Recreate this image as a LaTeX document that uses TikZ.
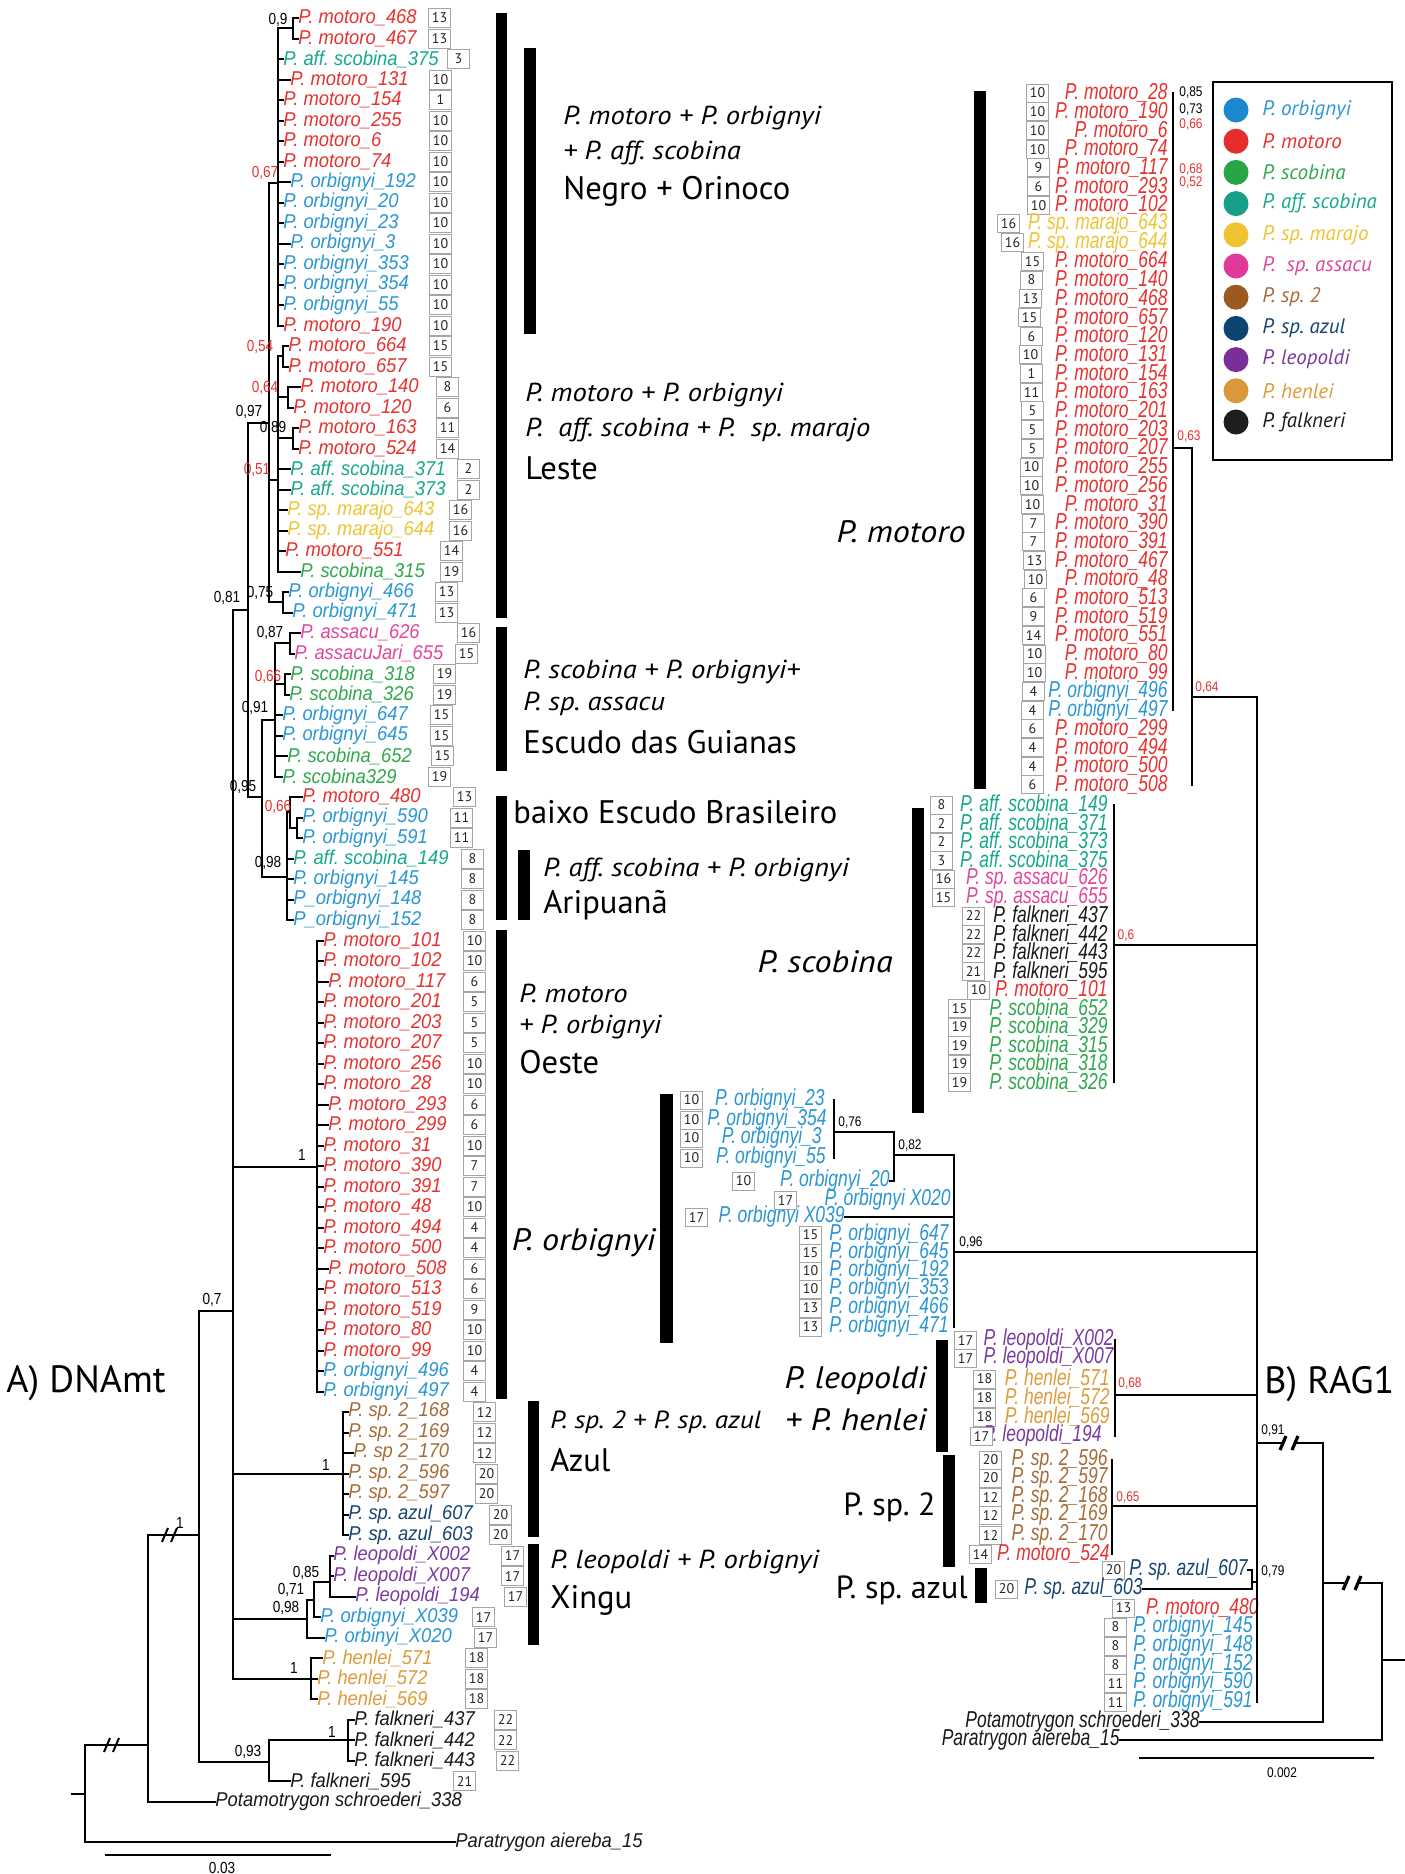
\documentclass[tikz,border=0pt]{standalone}
\usepackage{fontspec}
\setmainfont{PT Sans}
\newfontfamily\descf{PT Sans}[FakeStretch=1.1]
\newfontfamily\tipAf{Liberation Sans}[FakeStretch=0.92]
\newfontfamily\tipBf{Liberation Sans}[FakeStretch=0.76]
\newfontfamily\supf{Liberation Sans}[FakeStretch=0.85]
\definecolor{mot}{RGB}{230,50,48}
\definecolor{orb}{RGB}{42,150,212}
\definecolor{sco}{RGB}{48,168,78}
\definecolor{aff}{RGB}{22,168,140}
\definecolor{mar}{RGB}{238,196,50}
\definecolor{ass}{RGB}{225,70,155}
\definecolor{sp2}{RGB}{165,108,55}
\definecolor{azu}{RGB}{22,68,112}
\definecolor{leo}{RGB}{122,58,160}
\definecolor{hen}{RGB}{222,155,58}
\definecolor{fal}{RGB}{25,25,25}
\definecolor{supred}{RGB}{230,50,48}
\definecolor{boxgray}{RGB}{165,165,165}
\definecolor{corb}{RGB}{30,136,206}
\definecolor{cmot}{RGB}{229,45,45}
\definecolor{csco}{RGB}{39,166,72}
\definecolor{caff}{RGB}{22,160,138}
\definecolor{cmar}{RGB}{240,195,50}
\definecolor{cass}{RGB}{224,57,155}
\definecolor{csp2}{RGB}{154,90,34}
\definecolor{cazu}{RGB}{14,68,112}
\definecolor{cleo}{RGB}{122,47,150}
\definecolor{chen}{RGB}{217,152,58}
\definecolor{cfal}{RGB}{30,30,30}
\newcommand\brkA[1]{\begin{scope}[shift={(#1)}]
 \draw[line width=1pt] (-8,7) -- (-2,-7); \draw[line width=1pt] (1,7) -- (7,-7);\end{scope}}
\newcommand\brkB[1]{\begin{scope}[shift={(#1)}]
 \fill[white] (-9,6) -- (1,6) -- (9,-6) -- (-1,-6) -- cycle;
 \draw[line width=1.6pt] (-9,7) -- (-3,-7); \draw[line width=1.6pt] (3,7) -- (9,-7);\end{scope}}
\begin{document}
\frenchspacing
\begin{tikzpicture}[x=0.5pt,y=-0.5pt,
 treeA/.style={line width=1pt,line cap=rect},
 treeB/.style={line width=0.8pt,line cap=rect},
 tipA/.style={anchor=west,inner sep=0pt,font=\tipAf\itshape\fontsize{10}{10}\selectfont},
 tipB/.style={anchor=east,inner sep=0pt,font=\tipBf\itshape\fontsize{11.5}{11.5}\selectfont},
 nbox/.style={draw=boxgray,line width=0.5pt,fill=white,anchor=west,minimum width=11pt,minimum height=9.5pt,inner sep=0pt,font=\fontsize{7}{7}\selectfont,text=black!85},
 nboxB/.style={nbox,minimum height=9pt},
 supA/.style={inner sep=0pt,font=\supf\fontsize{8}{8}\selectfont},
 supB/.style={inner sep=0pt,font=\supf\fontsize{7}{7}\selectfont},
 descit/.style={anchor=west,inner sep=0pt,font=\descf\itshape\fontsize{13}{13}\selectfont},
 region/.style={anchor=west,inner sep=0pt,font=\fontsize{16.3}{16.3}\selectfont},
 grpit/.style={anchor=east,inner sep=0pt,font=\descf\itshape\fontsize{15.5}{15.5}\selectfont},
 grpup/.style={anchor=east,inner sep=0pt,font=\fontsize{16}{16}\selectfont},
 panel/.style={anchor=west,inner sep=0pt,font=\fontsize{19}{19}\selectfont},
 legtxt/.style={anchor=west,inner sep=0pt,font=\itshape\fontsize{10.5}{10.5}\selectfont}]
\fill[white] (0,0) rectangle (1404,1874);
\useasboundingbox (0,0) rectangle (1404,1874);

%% ================= A) DNAmt =================
\foreach \r/\xl/\col/\t/\bx/\n in {
1/298/mot/{P. motoro\_468}/428/13,
2/298/mot/{P. motoro\_467}/428/13,
3/283/aff/{P. aff. scobina\_375}/447/3,
4/290/mot/{P. motoro\_131}/429/10,
5/283/mot/{P. motoro\_154}/429/1,
6/283/mot/{P. motoro\_255}/429/10,
7/283/mot/{P. motoro\_6}/429/10,
8/283/mot/{P. motoro\_74}/429/10,
9/290/orb/{P. orbignyi\_192}/429/10,
10/283/orb/{P. orbignyi\_20}/429/10,
11/283/orb/{P. orbignyi\_23}/429/10,
12/290/orb/{P. orbignyi\_3}/429/10,
13/283/orb/{P. orbignyi\_353}/429/10,
14/283/orb/{P. orbignyi\_354}/429/10,
15/283/orb/{P. orbignyi\_55}/429/10,
16/283/mot/{P. motoro\_190}/429/10,
17/288/mot/{P. motoro\_664}/429/15,
18/288/mot/{P. motoro\_657}/429/15,
19/300/mot/{P. motoro\_140}/436/8,
20/293/mot/{P. motoro\_120}/436/6,
21/298/mot/{P. motoro\_163}/436/11,
22/298/mot/{P. motoro\_524}/436/14,
23/290/aff/{P. aff. scobina\_371}/457/2,
24/290/aff/{P. aff. scobina\_373}/457/2,
25/287/mar/{P. sp. marajo\_643}/449/16,
26/287/mar/{P. sp. marajo\_644}/449/16,
27/285/mot/{P. motoro\_551}/440/14,
28/300/sco/{P. scobina\_315}/440/19,
29/288/orb/{P. orbignyi\_466}/435/13,
30/292/orb/{P. orbignyi\_471}/435/13,
31/300/ass/{P. assacu\_626}/457/16,
32/294/ass/{P. assacuJari\_655}/455/15,
33/290/sco/{P. scobina\_318}/433/19,
34/289/sco/{P. scobina\_326}/433/19,
35/282/orb/{P. orbignyi\_647}/430/15,
36/282/orb/{P. orbignyi\_645}/430/15,
37/287/sco/{P. scobina\_652}/431/15,
38/282/sco/{P. scobina329}/428/19,
39/302/mot/{P. motoro\_480}/453/13,
40/302/orb/{P. orbignyi\_590}/450/11,
41/302/orb/{P. orbignyi\_591}/450/11,
42/293/aff/{P. aff. scobina\_149}/461/8,
43/293/orb/{P. orbignyi\_145}/461/8,
44/293/orb/{P\_orbignyi\_148}/461/8,
45/293/orb/{P\_orbignyi\_152}/461/8,
46/323/mot/{P. motoro\_101}/463/10,
47/323/mot/{P. motoro\_102}/463/10,
48/328/mot/{P. motoro\_117}/463/6,
49/323/mot/{P. motoro\_201}/463/5,
50/323/mot/{P. motoro\_203}/463/5,
51/323/mot/{P. motoro\_207}/463/5,
52/323/mot/{P. motoro\_256}/463/10,
53/323/mot/{P. motoro\_28}/463/10,
54/328/mot/{P. motoro\_293}/463/6,
55/328/mot/{P. motoro\_299}/463/6,
56/323/mot/{P. motoro\_31}/463/10,
57/323/mot/{P. motoro\_390}/463/7,
58/323/mot/{P. motoro\_391}/463/7,
59/323/mot/{P. motoro\_48}/463/10,
60/323/mot/{P. motoro\_494}/463/4,
61/323/mot/{P. motoro\_500}/463/4,
62/328/mot/{P. motoro\_508}/463/6,
63/323/mot/{P. motoro\_513}/463/6,
64/323/mot/{P. motoro\_519}/463/9,
65/323/mot/{P. motoro\_80}/463/10,
66/323/mot/{P. motoro\_99}/463/10,
67/323/orb/{P. orbignyi\_496}/463/4,
68/323/orb/{P. orbignyi\_497}/463/4,
69/348/sp2/{P. sp. 2\_168}/473/12,
70/348/sp2/{P. sp. 2\_169}/473/12,
71/353/sp2/{P. sp 2\_170}/473/12,
72/348/sp2/{P. sp. 2\_596}/475/20,
73/348/sp2/{P. sp. 2\_597}/475/20,
74/348/azu/{P. sp. azul\_607}/489/20,
75/348/azu/{P. sp. azul\_603}/489/20,
76/333/leo/{P. leopoldi\_X002}/501/17,
77/333/leo/{P. leopoldi\_X007}/501/17,
78/355/leo/{P. leopoldi\_194}/504/17,
79/320/orb/{P. orbignyi\_X039}/472/17,
80/324/orb/{P. orbinyi\_X020}/474/17,
81/322/hen/{P. henlei\_571}/465/18,
82/317/hen/{P. henlei\_572}/465/18,
83/317/hen/{P. henlei\_569}/465/18,
84/354/fal/{P. falkneri\_437}/494/22,
85/354/fal/{P. falkneri\_442}/494/22,
86/354/fal/{P. falkneri\_443}/496/22,
87/290/fal/{P. falkneri\_595}/453/21}{
 \node[tipA,text=\col] (L\r) at (\xl,{18+(\r-1)*20.5}) {\t};
 \node[nbox] (LB\r) at (\bx,{18+(\r-1)*20.5}) {\n};
}
\node[tipA,text=fal] (L88) at (215,1801.5) {Potamotrygon schroederi\_338};
\node[tipA,text=fal] (L89) at (455,1842) {Paratrygon aiereba\_15};

\foreach \nm/\x/\s in {a1/293/28, a2/278/183, a3/283/356, a5/288/397, a7/293/438,
 a6/278/480, a8/283/602, a4/269/423, b1/290/643, b2/285/684, b3/275/720,
 b4/297/828, b5/290/812, b7/287/877, b6/262/797, a9/248/610, c1/317/1167,
 c2/343/1474, c3/330/1582, c4/314/1600, c5/307/1619, c6/311/1678.5, c0/233/1311,
 d2/348/1740, d3/269/1762, d1/199/1535, d4/148/1745, d5/85/1794}
 \coordinate (\nm) at (\x,\s);
\coordinate (d0) at (72,1794);

\foreach \nm/\ua/\vb in {a1/L1/L2, a2/a1/L16, a3/L17/L18, a5/L19/L20, a7/L21/L22,
 a6/a3/L28, a8/L29/L30, a4/a2/a8, b1/L31/L32, b2/L33/L34, b3/b1/L38, b4/L40/L41,
 b5/L39/b4, b7/b5/L45, b6/b3/b7, a9/a4/b6, c1/L46/L68, c2/L69/L75, c3/L76/L78,
 c4/c3/L79, c5/c4/L80, c6/L81/L83, c0/a9/c6, d2/L84/L86, d3/d2/L87, d1/c0/d3,
 d4/d1/L88, d5/d4/L89}
 \draw[treeA] (\nm |- \ua) -- (\nm |- \vb);

\foreach \ch/\pa in {a1/a2, a2/a4, a3/a6, a5/a6, a7/a6, a6/a4, a8/a4, a4/a9, b1/b3,
 b2/b3, b3/b6, b4/b5, b5/b7, b7/b6, b6/a9, a9/c0, c1/c0, c2/c0, c3/c4, c4/c5,
 c5/c0, c6/c0, c0/d1, d2/d3, d3/d1, d1/d4, d4/d5}
 \draw[treeA] (\pa |- \ch) -- (\ch);
\draw[treeA] (d0) -- (d5);

\foreach \pa/\rs in {a1/{1,2}, a2/{3,...,16}, a3/{17,18}, a5/{19,20}, a7/{21,22},
 a6/{23,...,28}, a8/{29,30}, b1/{31,32}, b2/{33,34}, b3/{35,...,38}, b5/{39},
 b4/{40,41}, b7/{42,...,45}, c1/{46,...,68}, c2/{69,...,75}, c3/{76,77,78},
 c4/{79}, c5/{80}, c6/{81,82,83}, d2/{84,85,86}, d3/{87}, d4/{88}, d5/{89}}
 {\foreach \r in \rs {\draw[treeA] (\pa |- L\r.west) -- (L\r.west);}}

\coordinate (k1) at (170,1535);
\coordinate (k2) at (112,1745);
\brkA{k1}
\brkA{k2}

\foreach \x/\y/\t [count=\i] in {278/20/{0,9}, 249/412/{0,97}, 273/428/{0,89},
 227/598/{0,81}, 260/593/{0,75}, 270/633/{0,87}, 255/708/{0,91}, 243/787/{0,95},
 268/863/{0,98}, 302/1155/{1}, 212/1300/{0,7}, 326/1465/{1}, 180/1523/{1},
 306/1573/{0,85}, 291/1590/{0,71}, 286/1608/{0,98}, 294/1668/{1}, 332/1732/{1},
 248/1752/{0,93}}
 \node[supA] (sA\i) at (\x,\y) {\t};
\foreach \x/\y/\t [count=\i] in {265/173/{0,67}, 260/347/{0,54}, 265/388/{0,64},
 257/470/{0,51}, 268/677/{0,66}, 278/807/{0,66}}
 \node[supA,text=supred] (sAr\i) at (\x,\y) {\t};

\coordinate (sa1) at (106,1855);
\coordinate (sa2) at (330,1855);
\draw[treeA] (sa1) -- (sa2);
\node[supA] (sAlab) at (222,1868) {0.03};

% bars A
\fill (496,13) rectangle (507,618);
\fill (524,48) rectangle (536,334);
\fill (496,627) rectangle (507,771);
\fill (496,796) rectangle (507,920);
\fill (518,850) rectangle (530,920);
\fill (496,930) rectangle (507,1399);
\fill (528,1401) rectangle (539,1537);
\fill (528,1544) rectangle (539,1645);

\node[descit] (d1a) at (563,118) {P. motoro + P. orbignyi};
\node[descit] (d1b) at (563,153) {+ P. aff. scobina};
\node[region] (d1c) at (563,191) {Negro + Orinoco};
\node[descit] (d2a) at (525,395) {P. motoro + P. orbignyi};
\node[descit] (d2b) at (525,430) {P.\ \ aff. scobina + P.\ \ sp. marajo};
\node[region] (d2c) at (525,468) {Leste};
\node[descit] (d3a) at (523,672) {P. scobina + P. orbignyi+};
\node[descit] (d3b) at (523,704) {P. sp. assacu};
\node[region] (d3c) at (523,742) {Escudo das Guianas};
\node[region] (d4c) at (513,812) {baixo Escudo Brasileiro};
\node[descit] (d5a) at (543,870) {P. aff. scobina + P. orbignyi};
\node[region] (d5c) at (543,905) {Aripuanã};
\node[descit] (d6a) at (519,993) {P. motoro};
\node[descit] (d6b) at (519,1027) {+ P. orbignyi};
\node[region] (d6c) at (519,1062) {Oeste};
\node[descit,font=\descf\itshape\fontsize{12.4}{12.4}\selectfont] (d7a) at (550,1422) {P. sp. 2 + P. sp. azul};
\node[region] (d7c) at (550,1460) {Azul};
\node[descit] (d8a) at (550,1562) {P. leopoldi + P. orbignyi};
\node[region] (d8c) at (550,1600) {Xingu};
\node[panel] (pA) at (6,1383) {A) DNAmt};

%% ================= B) RAG1 =================
\foreach \r/\col/\t/\bx/\n in {
1/mot/{P. motoro\_28}/1026/10,
2/mot/{P. motoro\_190}/1026/10,
3/mot/{P. motoro\_6}/1026/10,
4/mot/{P. motoro\_74}/1026/10,
5/mot/{P. motoro\_117}/1027/9,
6/mot/{P. motoro\_293}/1027/6,
7/mot/{P. motoro\_102}/1027/10,
8/mar/{P. sp. marajo\_643}/997/16,
9/mar/{P. sp. marajo\_644}/1001/16,
10/mot/{P. motoro\_664}/1021/15,
11/mot/{P. motoro\_140}/1020/8,
12/mot/{P. motoro\_468}/1019/13,
13/mot/{P. motoro\_657}/1018/15,
14/mot/{P. motoro\_120}/1020/6,
15/mot/{P. motoro\_131}/1019/10,
16/mot/{P. motoro\_154}/1020/1,
17/mot/{P. motoro\_163}/1020/11,
18/mot/{P. motoro\_201}/1021/5,
19/mot/{P. motoro\_203}/1021/5,
20/mot/{P. motoro\_207}/1021/5,
21/mot/{P. motoro\_255}/1020/10,
22/mot/{P. motoro\_256}/1020/10,
23/mot/{P. motoro\_31}/1021/10,
24/mot/{P. motoro\_390}/1022/7,
25/mot/{P. motoro\_391}/1022/7,
26/mot/{P. motoro\_467}/1023/13,
27/mot/{P. motoro\_48}/1024/10,
28/mot/{P. motoro\_513}/1022/6,
29/mot/{P. motoro\_519}/1022/9,
30/mot/{P. motoro\_551}/1022/14,
31/mot/{P. motoro\_80}/1023/10,
32/mot/{P. motoro\_99}/1023/10,
33/orb/{P. orbignyi\_496}/1022/4,
34/orb/{P. orbignyi\_497}/1021/4,
35/mot/{P. motoro\_299}/1021/6,
36/mot/{P. motoro\_494}/1021/4,
37/mot/{P. motoro\_500}/1021/4,
38/mot/{P. motoro\_508}/1021/6}{
 \node[tipB,text=\col] (R\r) at (1168,{93+(\r-1)*18.7}) {\t};
 \node[nboxB] (RB\r) at (\bx,{93+(\r-1)*18.7}) {\n};
}
\foreach \r/\col/\t/\bx/\n in {
1/aff/{P. aff. scobina\_149}/930/8,
2/aff/{P. aff. scobina\_371}/930/2,
3/aff/{P. aff. scobina\_373}/930/2,
4/aff/{P. aff. scobina\_375}/930/3,
5/ass/{P. sp. assacu\_626}/932/16,
6/ass/{P. sp. assacu\_655}/932/15,
7/fal/{P. falkneri\_437}/962/22,
8/fal/{P. falkneri\_442}/962/22,
9/fal/{P. falkneri\_443}/962/22,
10/fal/{P. falkneri\_595}/962/21,
11/mot/{P. motoro\_101}/967/10,
12/sco/{P. scobina\_652}/948/15,
13/sco/{P. scobina\_329}/948/19,
14/sco/{P. scobina\_315}/948/19,
15/sco/{P. scobina\_318}/948/19,
16/sco/{P. scobina\_326}/948/19}{
 \node[tipB,text=\col] (S\r) at (1108,{805+(\r-1)*18.5}) {\t};
 \node[nboxB] (SB\r) at (\bx,{805+(\r-1)*18.5}) {\n};
}
\foreach \nm/\xe/\y/\bx/\n/\col/\t in {
O1/825/1100/680/10/orb/{P. orbignyi\_23},
O2/827/1120/680/10/orb/{P. orbignyi\_354},
O3/822/1138/680/10/orb/{P. orbignyi\_3},
O4/826/1158/680/10/orb/{P. orbignyi\_55},
O5/890/1181/732/10/orb/{P. orbignyi\_20},
O6/951/1200/774/17/orb/{P. orbignyi X020},
O7/845/1217/685/17/orb/{P. orbignyi X039},
O8/949/1235/799/15/orb/{P. orbignyi\_647},
O9/949/1253/799/15/orb/{P. orbignyi\_645},
O10/949/1271/799/10/orb/{P. orbignyi\_192},
O11/949/1289/799/10/orb/{P. orbignyi\_353},
O12/949/1308/799/13/orb/{P. orbignyi\_466},
O13/949/1327/799/13/orb/{P. orbignyi\_471},
P1/1114/1340/954/17/leo/{P. leopoldi\_X002},
P2/1114/1358/954/17/leo/{P. leopoldi\_X007},
P3/1110/1379/973/18/hen/{P. henlei\_571},
P4/1110/1398/973/18/hen/{P. henlei\_572},
P5/1110/1417/973/18/hen/{P. henlei\_569},
P6/1102/1436/970/17/leo/{P. leopoldi\_194},
Q1/1108/1460/979/20/sp2/{P. sp. 2\_596},
Q2/1108/1478/979/20/sp2/{P. sp. 2\_597},
Q3/1108/1497/979/12/sp2/{P. sp. 2\_168},
Q4/1108/1515/979/12/sp2/{P. sp. 2\_169},
Q5/1108/1535/979/12/sp2/{P. sp. 2\_170},
Q6/1110/1554/969/14/mot/{P. motoro\_524},
Z1/1248/1570/1102/20/azu/{P. sp. azul\_607},
Z2/1143/1589/995/20/azu/{P. sp. azul\_603},
W1/1259/1608/1112/13/mot/{P. motoro\_480},
W2/1253/1627/1104/8/orb/{P. orbignyi\_145},
W3/1253/1646/1104/8/orb/{P. orbignyi\_148},
W4/1253/1665/1104/8/orb/{P. orbignyi\_152},
W5/1253/1683/1104/11/orb/{P. orbignyi\_590},
W6/1253/1702/1104/11/orb/{P. orbignyi\_591}}{
 \node[tipB,text=\col] (\nm) at (\xe,\y) {\t};
 \node[nboxB] (\nm-b) at (\bx,\y) {\n};
}
\node[tipB,text=fal] (RS) at (1200,1722) {Potamotrygon schroederi\_338};
\node[tipB,text=fal] (RP) at (1120,1740) {Paratrygon aiereba\_15};

\foreach \nm/\x/\s in {r1/1173/448, r2/1192/697, r3/1114/945, r4/834/1132,
 r5/894/1155, r6/954/1252, r7/1115/1395, r8/1112/1506, r9/1252/1582,
 rM/1257/1443, rN/1323/1583, rR/1382/1660, rE/1404/1660}
 \coordinate (\nm) at (\x,\s);
\foreach \nm/\ua/\vb in {r1/R1/R34, r2/r1/R38, r3/S1/S16, r4/O1/O4, r5/r4/O5,
 r6/r5/O13, r7/P1/P6, r8/Q1/Q6, r9/Z1/Z2, rM/r2/W6, rN/rM/RS, rR/rN/RP}
 \draw[treeB] (\nm |- \ua) -- (\nm |- \vb);
\foreach \ch/\pa in {r1/r2, r2/rM, r3/rM, r4/r5, r5/r6, r6/rM, r7/rM, r8/rM,
 r9/rM, rM/rN, rN/rR, rR/rE}
 \draw[treeB] (\ch) -- (\pa |- \ch);
\foreach \tp/\pa in {O5/r5, O7/r6, Z1/r9, Z2/r9, RS/rN, RP/rR}
 \draw[treeB] (\tp.east) -- (\pa |- \tp.east);

\coordinate (k3) at (1289,1443);
\coordinate (k4) at (1352,1583);
\brkB{k3}
\brkB{k4}

\foreach \x/\y/\t [count=\i] in {1191/93/{0,85}, 1191/110/{0,73}, 850/1122/{0,76},
 910/1145/{0,82}, 971/1242/{0,96}, 1273/1571/{0,79}, 1273/1430/{0,91}}
 \node[supB] (sB\i) at (\x,\y) {\t};
\foreach \x/\y/\t [count=\i] in {1191/125/{0,66}, 1191/170/{0,68}, 1191/183/{0,52},
 1189/437/{0,63}, 1207/687/{0,64}, 1126/935/{0,6}, 1130/1383/{0,68}, 1128/1497/{0,65}}
 \node[supB,text=supred] (sBr\i) at (\x,\y) {\t};

\coordinate (sb1) at (1140,1758);
\coordinate (sb2) at (1373,1758);
\draw[treeB] (sb1) -- (sb2);
\node[supB] (sBlab) at (1282,1773) {0.002};

% bars B
\fill (974,91) rectangle (986,789);
\fill (912,808) rectangle (924,1113);
\fill (660,1094) rectangle (673,1343);
\fill (936,1340) rectangle (948,1452);
\fill (943,1455) rectangle (955,1567);
\fill (975,1568) rectangle (987,1603);

\node[grpit] (gM) at (966,532) {P. motoro};
\node[grpit] (gS) at (893,962) {P. scobina};
\node[grpit] (gO) at (656,1243) {P. orbignyi};
\node[grpit] (gL1) at (927,1381) {P. leopoldi};
\node[grpit] (gL2) at (927,1420) {+ P. henlei};
\node[grpup] (g2) at (936,1507) {P. sp. 2};
\node[grpup] (gZ) at (968,1590) {P. sp. azul};
\node[panel] (pB) at (1264,1384) {B) RAG1};

% legend
\coordinate (lg1) at (1213,82);
\coordinate (lg2) at (1392,460);
\draw[line width=1pt] (lg1) rectangle (lg2);
\foreach \k/\cf/\ct/\t in {0/corb/orb/{P. orbignyi}, 1/cmot/mot/{P. motoro},
 2/csco/sco/{P. scobina}, 3/caff/aff/{P. aff. scobina}, 4/cmar/mar/{P. sp. marajo},
 5/cass/ass/{P.\ \ sp. assacu}, 6/csp2/sp2/{P. sp. 2}, 7/cazu/azu/{P. sp. azul},
 8/cleo/leo/{P. leopoldi}, 9/chen/hen/{P. henlei}, 10/cfal/fal/{P. falkneri}}{
 \fill[\cf] (1236,{110+\k*31.2}) circle[radius=6.25pt];
 \node[legtxt,text=\ct] (LG\k) at (1262,{110+\k*31.2}) {\t};
}
\end{tikzpicture}
\end{document}
